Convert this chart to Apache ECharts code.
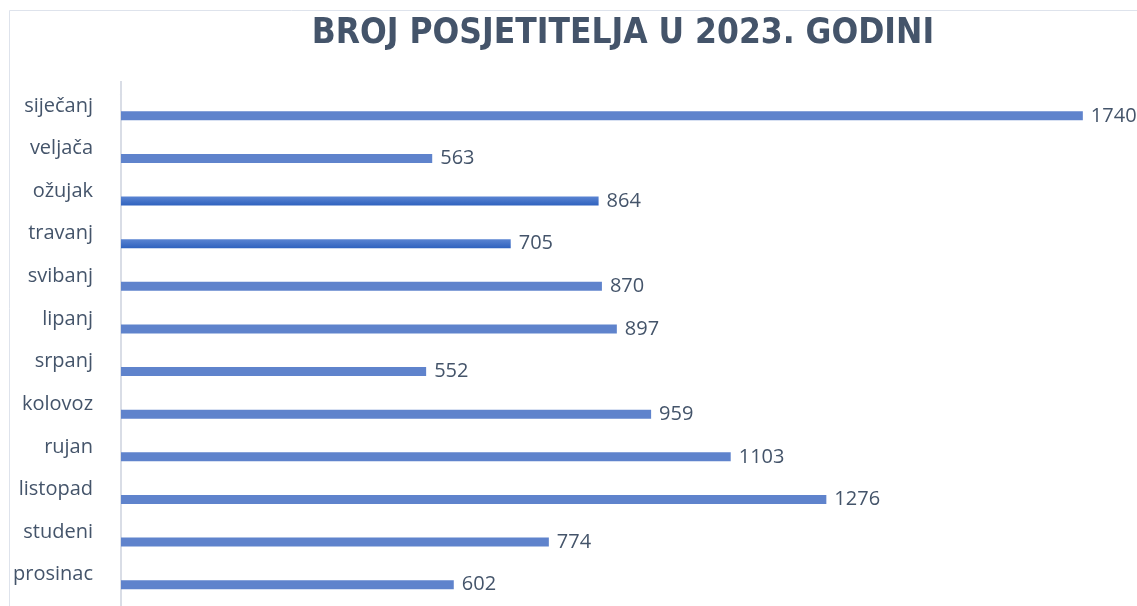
<!DOCTYPE html>
<html>
<head>
<meta charset="utf-8">
<script src="https://cdn.jsdelivr.net/npm/echarts@6/dist/echarts.min.js"></script>
<style>
  html, body { margin: 0; padding: 0; background: #fff; }
  #chart { width: 1137px; height: 606px; }
</style>
</head>
<body>
<div id="chart"></div>
<script>
  // mjeseci i broj posjetitelja
  var months = ['siječanj', 'veljača', 'ožujak', 'travanj', 'svibanj', 'lipanj',
    'srpanj', 'kolovoz', 'rujan', 'listopad', 'studeni', 'prosinac'];
  var visitors = [1740, 563, 864, 705, 870, 897, 552, 959, 1103, 1276, 774, 602];
  // ožujak i travanj su u originalu malo tamniji
  var darker = ['ožujak', 'travanj'];

  var textColor = '#44546A';
  var chart = echarts.init(document.getElementById('chart'));

  var option = {
    backgroundColor: '#fff',
    animation: false,
    title: {
      text: 'BROJ POSJETITELJA U 2023. GODINI',
      left: 618,
      textAlign: 'center',
      top: 11,
      textStyle: {
        fontFamily: '"DejaVu Sans Condensed", sans-serif',
        fontWeight: 'bold',
        fontSize: 35,
        color: textColor
      }
    },
    graphic: [
      { type: 'line', shape: { x1: 9.5, y1: 10.5, x2: 1137, y2: 10.5 }, style: { stroke: '#DEE3EC', lineWidth: 1 } },
      { type: 'line', shape: { x1: 9.5, y1: 10.5, x2: 9.5, y2: 606 }, style: { stroke: '#DEE3EC', lineWidth: 1 } },
      // os u originalu krece malo iznad prve kategorije
      { type: 'line', shape: { x1: 121, y1: 81, x2: 121, y2: 96 }, style: { stroke: '#D9DDE6', lineWidth: 2 } }
    ],
    grid: { left: 121, right: 21, top: 94.5, height: 516 },
    xAxis: {
      type: 'value',
      min: 0,
      max: 1800,
      show: false
    },
    yAxis: {
      type: 'category',
      inverse: true,
      data: months,
      axisLine: { show: true, lineStyle: { color: '#D9DDE6', width: 2 } },
      axisTick: { show: false },
      axisLabel: {
        margin: 28,
        fontFamily: '"Open Sans", sans-serif',
        fontSize: 20,
        color: textColor,
        verticalAlign: 'bottom',
        lineHeight: 20
      }
    },
    series: [{
      type: 'bar',
      barWidth: 9,
      data: visitors.map(function (v, i) {
        var item = { value: v };
        if (darker.indexOf(months[i]) >= 0) {
          item.itemStyle = {
            color: new echarts.graphic.LinearGradient(0, 0, 0, 1, [
              { offset: 0, color: '#5A84D2' },
              { offset: 1, color: '#2F62BE' }
            ])
          };
        }
        return item;
      }),
      itemStyle: { color: '#5F83CC' },
      label: {
        show: true,
        position: 'right',
        distance: 8,
        fontFamily: '"Open Sans", sans-serif',
        fontSize: 20,
        color: textColor
      }
    }]
  };

  chart.setOption(option);
  window.addEventListener('resize', function () {
    chart.resize();
  });
</script>
</body>
</html>
